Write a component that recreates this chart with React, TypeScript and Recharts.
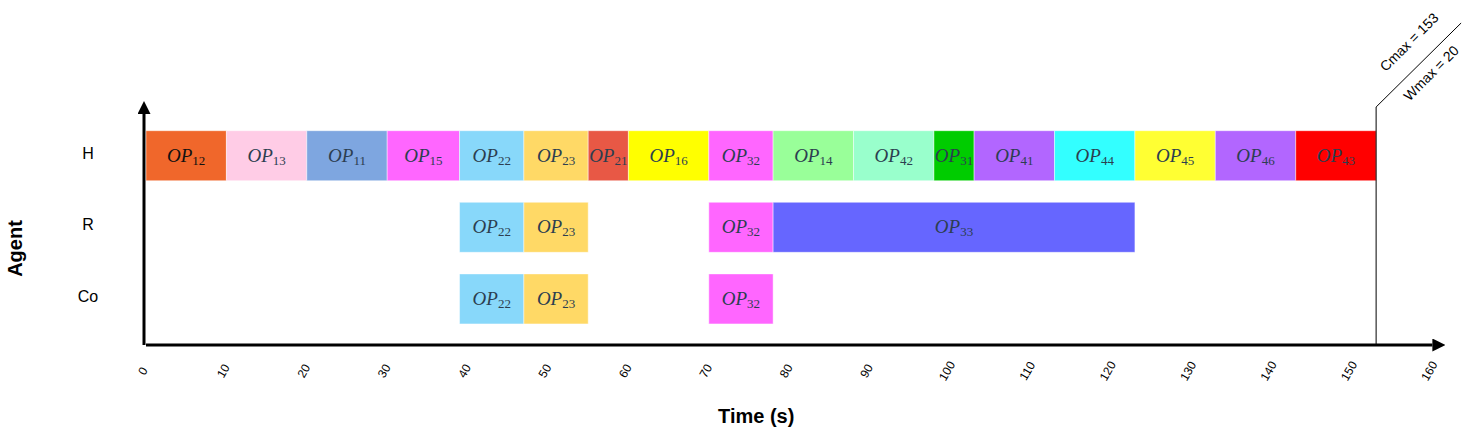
import React from 'react';
import { BarChart, Bar, XAxis, YAxis, Cell, LabelList, ReferenceLine } from 'recharts';

// ---------- data ----------
const agents = ['H', 'R', 'Co'];

// [operation, start (s), end (s)]
const hTasks: [string, number, number][] = [
  ['OP12', 0, 10],
  ['OP13', 10, 20],
  ['OP11', 20, 30],
  ['OP15', 30, 39],
  ['OP22', 39, 47],
  ['OP23', 47, 55],
  ['OP21', 55, 60],
  ['OP16', 60, 70],
  ['OP32', 70, 78],
  ['OP14', 78, 88],
  ['OP42', 88, 98],
  ['OP31', 98, 103],
  ['OP41', 103, 113],
  ['OP44', 113, 123],
  ['OP45', 123, 133],
  ['OP46', 133, 143],
  ['OP43', 143, 153],
];
const rTasks: [string, number, number][] = [
  ['OP22', 39, 47],
  ['OP23', 47, 55],
  ['OP32', 70, 78],
  ['OP33', 78, 123],
];
const coTasks: [string, number, number][] = [
  ['OP22', 39, 47],
  ['OP23', 47, 55],
  ['OP32', 70, 78],
];
const timeTicks = [0, 10, 20, 30, 40, 50, 60, 70, 80, 90, 100, 110, 120, 130, 140, 150, 160];
const cmax = 153;
const wmax = 20;

// ---------- styles ----------
const opColors: Record<string, string> = {
  OP12: '#F0672B',
  OP13: '#FFCCE6',
  OP11: '#7EA6E0',
  OP15: '#FF66FF',
  OP22: '#88D8FA',
  OP23: '#FFD966',
  OP21: '#E85845',
  OP16: '#FFFF00',
  OP32: '#FF66FF',
  OP14: '#99FF99',
  OP42: '#99FFCC',
  OP31: '#00CC00',
  OP41: '#B266FF',
  OP44: '#33FFFF',
  OP45: '#FFFF33',
  OP46: '#B266FF',
  OP43: '#FF0000',
  OP33: '#6666FF',
};

// ---------- build stacked table ----------
type Seg = { name: string; len: number };
const taskLists = [hTasks, rTasks, coTasks];
const segLists: Seg[][] = taskLists.map((tasks) => {
  const segs: Seg[] = [];
  let cursor = 0;
  tasks.forEach(([name, s, e]) => {
    if (s > cursor) segs.push({ name: '', len: s - cursor });
    segs.push({ name, len: e - s });
    cursor = e;
  });
  return segs;
});
const maxSegs = Math.max(...segLists.map((l) => l.length));
const tableRows = agents.map((agent, ri) => {
  const row: Record<string, any> = { agent };
  segLists[ri].forEach((seg, i) => {
    row[`v${i}`] = seg.len;
    row[`n${i}`] = seg.name;
  });
  return row;
});

const SANS = '"Liberation Sans", Arial, sans-serif';
const SERIF = '"Liberation Serif", "Times New Roman", serif';

const OpLabel = (props: any) => {
  const { x, y, width, height, value } = props;
  if (!value) return null;
  const sub = String(value).slice(2);
  return (
    <text
      x={Number(x) + Number(width) / 2}
      y={Number(y) + Number(height) / 2 + 6}
      textAnchor="middle"
      fill={value === 'OP12' ? '#111' : '#2C3E50'}
    >
      <tspan fontFamily={SERIF} fontStyle="italic" fontSize={19}>OP</tspan>
      <tspan fontFamily={SERIF} fontSize={13} dy={3}>{sub}</tspan>
    </text>
  );
};

const XTick = (props: any) => {
  const { x, y, payload } = props;
  const cx = x - 3;
  const cy = y + 26;
  return (
    <text
      x={cx}
      y={cy}
      transform={`rotate(-60, ${cx}, ${cy})`}
      textAnchor="middle"
      dominantBaseline="central"
      fontFamily={SANS}
      fontSize={12}
      fill="#000"
    >
      {payload.value}
    </text>
  );
};

const YTick = (props: any) => {
  const { x, y, payload } = props;
  return (
    <text x={x - 58} y={y + 3} textAnchor="middle" fontFamily={SANS} fontSize={16} fill="#000">
      {payload.value}
    </text>
  );
};

const TimeTitle = (props: any) => {
  const vb = props.viewBox || {};
  return (
    <text
      x={vb.x + vb.width / 2 - 33}
      y={vb.y + 78}
      textAnchor="middle"
      fontFamily={SANS}
      fontWeight="bold"
      fontSize={20}
      fill="#000"
    >
      Time (s)
    </text>
  );
};

const AgentTitle = (props: any) => {
  const vb = props.viewBox || {};
  const cx = vb.x + 22;
  const cy = vb.y + vb.height / 2 + 19;
  return (
    <text
      x={cx}
      y={cy}
      transform={`rotate(-90, ${cx}, ${cy})`}
      textAnchor="middle"
      fontFamily={SANS}
      fontWeight="bold"
      fontSize={20}
      fill="#000"
    >
      Agent
    </text>
  );
};

const CmaxShape = (props: any) => {
  const { x1, y1, y2 } = props;
  const X = Number(x1);
  const bottom = Math.max(Number(y1), Number(y2));
  const top = Math.min(Number(y1), Number(y2)) - 7;
  const c1x = X + 33;
  const c1y = top - 65;
  const c2x = X + 55;
  const c2y = top - 34;
  return (
    <g>
      <path
        d={`M${X},${bottom} L${X},${top} L${X + 85},${top - 84}`}
        stroke="#000"
        strokeWidth={1}
        fill="none"
      />
      <text
        x={c1x}
        y={c1y}
        transform={`rotate(-45, ${c1x}, ${c1y})`}
        textAnchor="middle"
        dominantBaseline="central"
        fontFamily={SANS}
        fontSize={14}
        fill="#000"
      >
        {`Cmax = ${cmax}`}
      </text>
      <text
        x={c2x}
        y={c2y}
        transform={`rotate(-45, ${c2x}, ${c2y})`}
        textAnchor="middle"
        dominantBaseline="central"
        fontFamily={SANS}
        fontSize={14}
        fill="#000"
      >
        {`Wmax = ${wmax}`}
      </text>
    </g>
  );
};

export default function App() {
  const seriesIdx = Array.from({ length: maxSegs }, (_, i) => i);
  return (
    <div style={{ position: 'absolute', left: 0, top: 0, width: 1477, height: 429, background: '#fff' }}>
      <svg width={0} height={0} style={{ position: 'absolute' }}>
        <defs>
          <marker
            id="arrowHead"
            viewBox="0 0 13 13"
            refX={0}
            refY={6.5}
            markerWidth={13}
            markerHeight={13}
            markerUnits="userSpaceOnUse"
            orient="auto-start-reverse"
          >
            <path d="M0,0 L13,6.5 L0,13 z" fill="#000" />
          </marker>
        </defs>
      </svg>
      <BarChart
        width={1477}
        height={429}
        data={tableRows}
        layout="vertical"
        margin={{ top: 114, right: 44.6, bottom: 24, left: 0 }}
      >
        <XAxis
          type="number"
          domain={[0, 160]}
          ticks={timeTicks}
          interval={0}
          height={60}
          tickSize={0}
          tickMargin={0}
          tickLine={false}
          tick={<XTick />}
          axisLine={{ stroke: '#000', strokeWidth: 3, markerEnd: 'url(#arrowHead)' } as any}
          label={{ content: (p: any) => <TimeTitle {...p} /> } as any}
        />
        <YAxis
          type="category"
          dataKey="agent"
          width={146}
          padding={{ top: 5.7, bottom: 10.5 }}
          tickSize={0}
          tickMargin={0}
          tickLine={false}
          tick={<YTick />}
          axisLine={{ stroke: '#000', strokeWidth: 3, markerStart: 'url(#arrowHead)', transform: 'translate(-2 0)' } as any}
          label={{ content: (p: any) => <AgentTitle {...p} /> } as any}
        />
        {seriesIdx.map((i) => (
          <Bar key={i} dataKey={`v${i}`} stackId="ops" barSize={50} isAnimationActive={false}>
            {tableRows.map((row, ri) => {
              const name = row[`n${i}`];
              const col = name ? opColors[name] : 'transparent';
              return (
                <Cell
                  key={ri}
                  fill={col}
                  stroke={name ? 'rgba(255,255,255,0.45)' : 'none'}
                  strokeWidth={1}
                />
              );
            })}
            <LabelList dataKey={`n${i}`} content={(p: any) => <OpLabel {...p} />} />
          </Bar>
        ))}
        <ReferenceLine x={cmax} stroke="#000" shape={(p: any) => <CmaxShape {...p} />} ifOverflow="visible" />
      </BarChart>
    </div>
  );
}
